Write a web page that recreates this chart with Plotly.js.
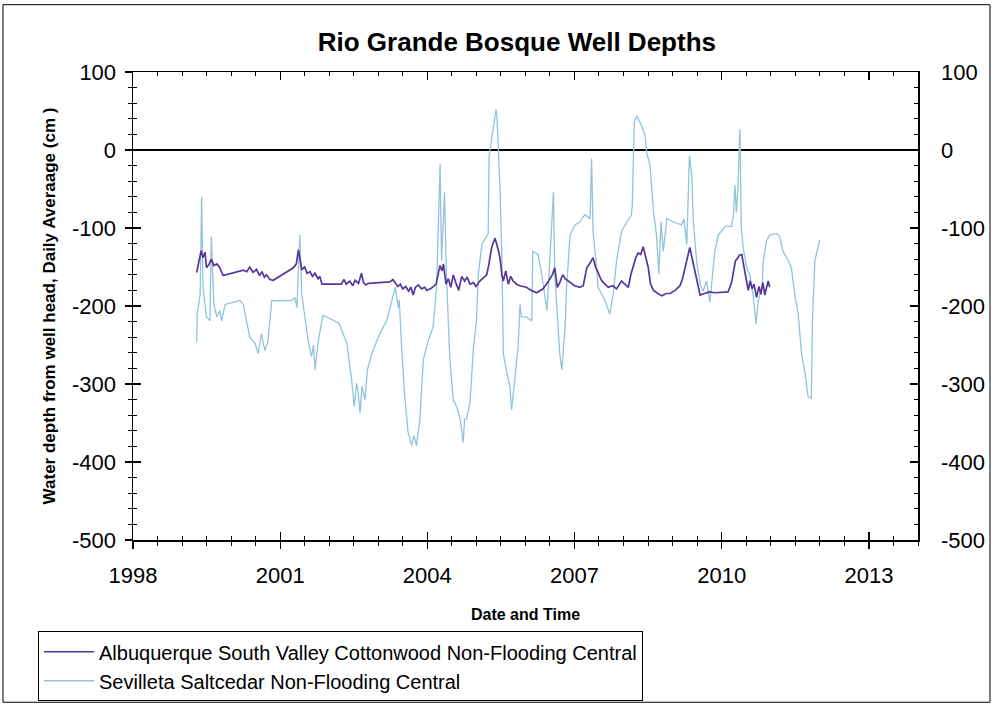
<!DOCTYPE html>
<html>
<head>
<meta charset="utf-8">
<script src="https://cdn.plot.ly/plotly-3.0.1.min.js"></script>
<style>html,body{margin:0;padding:0;background:#fff;}#chart{width:994px;height:713px;}</style>
</head>
<body>
<div id="chart"></div>
<script>
// ---- Data (decimal years, depth in cm) ----
const albName = "Albuquerque South Valley Cottonwood Non-Flooding Central";
const sevName = "Sevilleta Saltcedar Non-Flooding Central";

const albYear = [1999.30,1999.35,1999.39,1999.43,1999.47,1999.50,1999.55,1999.60,1999.65,1999.71,1999.77,1999.84,
2000.25,2000.32,2000.38,2000.45,2000.52,2000.58,2000.63,2000.68,2000.72,2000.79,2000.86,
2001.27,2001.33,2001.37,2001.41,2001.44,2001.50,2001.55,2001.61,2001.66,2001.71,2001.77,2001.81,2001.85,
2002.25,2002.30,2002.35,2002.42,2002.48,2002.53,2002.60,2002.66,2002.70,2002.75,2002.80,
2003.24,2003.30,2003.35,2003.40,2003.45,2003.50,2003.56,2003.62,2003.67,2003.71,2003.76,2003.82,2003.88,2003.95,2003.99,
2004.09,2004.18,2004.22,2004.26,2004.30,2004.33,2004.38,2004.43,2004.48,2004.53,2004.58,2004.64,2004.70,2004.76,2004.81,2004.87,2004.94,2004.99,
2005.07,2005.14,2005.21,2005.25,2005.31,2005.35,2005.38,2005.43,2005.48,2005.52,2005.55,2005.60,2005.65,2005.70,2005.75,2005.82,2005.89,
2006.02,2006.12,2006.23,2006.30,2006.36,2006.45,2006.50,2006.55,2006.60,2006.65,2006.70,2006.76,2006.81,2006.91,
2007.00,2007.11,2007.18,2007.25,2007.32,2007.38,2007.43,2007.48,2007.54,2007.59,2007.69,2007.78,2007.86,2007.96,
2008.03,2008.10,2008.15,2008.20,2008.25,2008.30,2008.35,2008.40,2008.45,2008.50,2008.55,2008.61,2008.70,2008.78,2008.87,2008.95,
2009.05,2009.15,2009.20,2009.25,2009.30,2009.35,2009.40,2009.46,2009.51,2009.56,2009.65,2009.75,2009.86,
2010.00,2010.13,2010.20,2010.24,2010.28,2010.31,2010.36,2010.41,2010.45,2010.48,2010.54,2010.58,2010.62,2010.66,2010.71,2010.76,2010.80,2010.84,2010.88,2010.92,2010.95,2010.98];
const albDepth = [-157,-140,-129,-138,-131,-151,-147,-140,-148,-146,-151,-161,
-154,-156,-150,-157,-153,-161,-156,-163,-160,-166,-167,
-151,-146,-128,-145,-153,-150,-158,-156,-162,-158,-165,-162,-172,
-172,-166,-172,-168,-174,-167,-171,-158,-170,-173,-171,
-169,-166,-171,-175,-172,-178,-175,-181,-176,-186,-176,-173,-178,-176,-180,
-177,-172,-160,-148,-155,-146,-172,-165,-176,-160,-170,-180,-162,-168,-163,-172,-170,-175,
-168,-164,-160,-148,-125,-118,-113,-124,-138,-160,-168,-155,-172,-162,-168,-172,-174,
-176,-180,-183,-180,-178,-170,-164,-160,-151,-176,-170,-160,-165,-170,
-174,-176,-174,-151,-145,-138,-150,-157,-166,-170,-176,-174,-178,-168,
-172,-176,-160,-147,-138,-132,-134,-124,-138,-150,-172,-180,-184,-187,-184,-184,
-180,-174,-165,-151,-138,-125,-140,-156,-172,-186,-184,-182,-183,
-182,-182,-170,-155,-142,-140,-135,-134,-150,-160,-180,-168,-178,-172,-189,-175,-185,-170,-186,-175,-168,-176];

const sevYear = [1999.30,1999.31,1999.37,1999.40,1999.43,1999.50,1999.57,1999.60,1999.65,1999.71,1999.77,1999.81,1999.88,
2000.18,2000.25,2000.38,2000.49,2000.55,2000.62,2000.69,2000.75,2000.79,2000.83,
2001.23,2001.30,2001.34,2001.40,2001.44,2001.51,2001.57,2001.64,2001.68,2001.71,2001.78,2001.85,2001.88,
2002.20,2002.29,2002.36,2002.46,2002.51,2002.56,2002.59,2002.63,2002.67,2002.73,2002.78,2002.87,
2003.03,2003.17,2003.24,2003.31,2003.35,2003.41,2003.43,2003.48,2003.54,2003.61,2003.68,2003.73,2003.78,2003.85,2003.92,
2004.02,2004.12,2004.19,2004.23,2004.26,2004.29,2004.35,2004.39,2004.46,2004.53,2004.60,2004.67,2004.73,2004.76,2004.80,2004.87,2004.94,
2005.00,2005.04,2005.11,2005.21,2005.24,2005.26,2005.31,2005.34,2005.40,2005.42,2005.45,2005.48,2005.52,2005.55,2005.62,2005.68,2005.72,2005.79,2005.85,2005.89,2005.92,
2006.02,2006.13,2006.15,2006.26,2006.33,2006.40,2006.44,2006.48,2006.51,2006.57,2006.60,2006.64,2006.70,2006.74,2006.81,2006.84,2006.91,
2007.01,2007.11,2007.21,2007.32,2007.35,2007.38,2007.45,2007.48,2007.62,2007.72,2007.79,2007.86,2007.96,
2008.06,2008.16,2008.18,2008.22,2008.27,2008.31,2008.37,2008.44,2008.47,2008.54,2008.61,2008.67,2008.72,2008.76,2008.81,2008.88,
2009.01,2009.18,2009.23,2009.29,2009.34,2009.39,2009.42,2009.49,2009.56,2009.62,2009.69,2009.76,2009.86,2009.93,
2010.07,2010.20,2010.24,2010.27,2010.30,2010.33,2010.37,2010.40,2010.44,2010.51,2010.57,2010.64,2010.70,2010.74,2010.83,2010.84,2010.91,2010.98,
2011.12,2011.18,2011.25,2011.36,2011.42,2011.49,2011.56,2011.63,2011.70,2011.76,2011.83,2011.85,2011.90,2012.00];
const sevDepth = [-246,-210,-185,-60,-176,-214,-219,-111,-198,-214,-206,-219,-198,
-193,-198,-240,-248,-261,-236,-257,-246,-214,-193,
-193,-189,-202,-109,-185,-219,-244,-265,-250,-282,-244,-219,-212,
-222,-236,-248,-295,-329,-299,-310,-337,-303,-320,-282,-261,
-236,-219,-202,-185,-176,-202,-192,-257,-316,-362,-379,-366,-379,-345,-269,
-244,-227,-176,-100,-18,-142,-54,-159,-269,-320,-329,-345,-375,-345,-345,-324,-252,
-219,-159,-121,-109,-107,-7,14,31,52,40,1,-49,-134,-261,-286,-303,-333,-290,-252,-198,-214,
-214,-219,-130,-134,-159,-193,-206,-160,-126,-54,-159,-200,-261,-282,-227,-176,-109,
-96,-92,-83,-88,-11,-104,-150,-176,-193,-210,-185,-142,-104,
-94,-83,-71,35,44,38,31,18,-3,-20,-79,-109,-159,-92,-130,-88,
-92,-96,-88,-121,-7,-33,-90,-142,-172,-181,-168,-195,-130,-109,
-98,-98,-83,-45,-80,-50,27,-100,-126,-151,-159,-185,-223,-195,-172,-147,-117,-109,
-107,-110,-130,-142,-151,-185,-210,-261,-286,-316,-318,-219,-142,-115];

// ---- Axis labels ----
const yTickVals = [100, 0, -100, -200, -300, -400, -500];
const yTickText = ["100", "0", "-100", "-200", "-300", "-400", "-500"];
const xTickStart = "1998-01-01";
const xRange = ["1998-01-01", "2014-01-01"];
const yRange = [-500, 100];

function toDate(y) {
  const yr = Math.floor(y);
  const s = Date.UTC(yr, 0, 1), e = Date.UTC(yr + 1, 0, 1);
  return new Date(s + (y - yr) * (e - s)).toISOString().slice(0, 10);
}

const FONT = "Arial, 'Liberation Sans', sans-serif";

// invisible helpers so the overlay axes (inside ticks, right labels) get drawn
function helper(xa, ya) {
  return {x: xRange, y: yRange, xaxis: xa, yaxis: ya, mode: "lines",
          line: {width: 0, color: "rgba(0,0,0,0)"}, showlegend: false, hoverinfo: "skip"};
}

const traces = [
  helper("x2", "y"), helper("x", "y2"), helper("x", "y3"),
  {
    x: sevYear.map(toDate), y: sevDepth, name: sevName, type: "scatter", mode: "lines",
    line: {color: "#92c3dc", width: 1.3}, legendrank: 2
  },
  {
    x: albYear.map(toDate), y: albDepth, name: albName, type: "scatter", mode: "lines",
    line: {color: "#55389a", width: 1.7}, legendrank: 1
  }
];

const tickFont = {family: FONT, size: 22, color: "#000"};

const layout = {
  width: 994, height: 713,
  margin: {l: 133, r: 76, t: 72, b: 168},
  paper_bgcolor: "#fff", plot_bgcolor: "#fff",
  title: {
    text: "Rio Grande Bosque Well Depths",
    font: {family: FONT, size: 26, color: "#000", weight: "bold"},
    x: 0.489, xref: "paper", xanchor: "center", y: 0.941, yanchor: "middle"
  },
  showlegend: true,
  legend: {
    x: -0.121, y: -0.195, xanchor: "left", yanchor: "top",
    bordercolor: "#000", borderwidth: 1, bgcolor: "#fff",
    font: {family: FONT, size: 20, color: "#000"},
    itemwidth: 50, tracegroupgap: 0
  },
  xaxis: {
    type: "date", range: xRange, tick0: xTickStart, dtick: "M36", tickformat: "%Y",
    ticks: "outside", ticklen: 7, tickwidth: 1.3, tickcolor: "#000",
    minor: {ticks: "outside", ticklen: 4, dtick: "M6", tick0: xTickStart, tickcolor: "#000", tickwidth: 1},
    showline: true, linecolor: "#000", linewidth: 1.5, mirror: true,
    showgrid: false, zeroline: false,
    tickfont: tickFont, ticklabelstandoff: 8,
    title: {text: "Date and Time", font: {family: FONT, size: 16, color: "#000", weight: "bold"}, standoff: 22}
  },
  xaxis2: {
    type: "date", range: xRange, overlaying: "x", anchor: "y", tick0: xTickStart, dtick: "M36",
    ticks: "inside", ticklen: 8, tickwidth: 1.3, tickcolor: "#000",
    minor: {ticks: "inside", ticklen: 4, dtick: "M6", tick0: xTickStart, tickcolor: "#000", tickwidth: 1},
    showline: true, linecolor: "#000", linewidth: 1.5, mirror: "allticks",
    showticklabels: false, showgrid: false, zeroline: false
  },
  yaxis: {
    range: yRange, tickmode: "array", tickvals: yTickVals, ticktext: yTickText,
    ticks: "outside", ticklen: 7, tickwidth: 1.3, tickcolor: "#000",
    minor: {ticks: "outside", ticklen: 4, dtick: 20, tick0: 0, tickcolor: "#000", tickwidth: 1},
    showline: true, linecolor: "#000", linewidth: 1.5, mirror: true,
    showgrid: false, zeroline: true, zerolinecolor: "#000", zerolinewidth: 2,
    tickfont: tickFont, ticklabelstandoff: 4,
    title: {text: "Water depth from well head, Daily Averaage (cm )", font: {family: FONT, size: 17, color: "#000", weight: "bold"}, standoff: 12}
  },
  yaxis2: {
    range: yRange, tickmode: "array", tickvals: yTickVals, ticktext: yTickText,
    overlaying: "y", side: "right", anchor: "x",
    ticks: "", showline: false, showgrid: false, zeroline: false,
    tickfont: tickFont, ticklabelstandoff: 22
  },
  yaxis3: {
    range: yRange, tickmode: "array", tickvals: yTickVals, overlaying: "y", anchor: "x",
    ticks: "inside", ticklen: 8, tickwidth: 1.3, tickcolor: "#000",
    minor: {ticks: "inside", ticklen: 4, dtick: 20, tick0: 0, tickcolor: "#000", tickwidth: 1},
    showline: true, linecolor: "#000", linewidth: 1.5, mirror: "allticks",
    showticklabels: false, showgrid: false, zeroline: false
  },
  shapes: [{
    type: "rect", xref: "paper", yref: "paper",
    x0: -0.1656, x1: 1.0917, y0: -0.3467, y1: 1.1438,
    line: {color: "#000", width: 1}, fillcolor: "rgba(0,0,0,0)", layer: "below"
  }]
};

Plotly.newPlot("chart", traces, layout, {staticPlot: true, displayModeBar: false});
</script>
</body>
</html>
